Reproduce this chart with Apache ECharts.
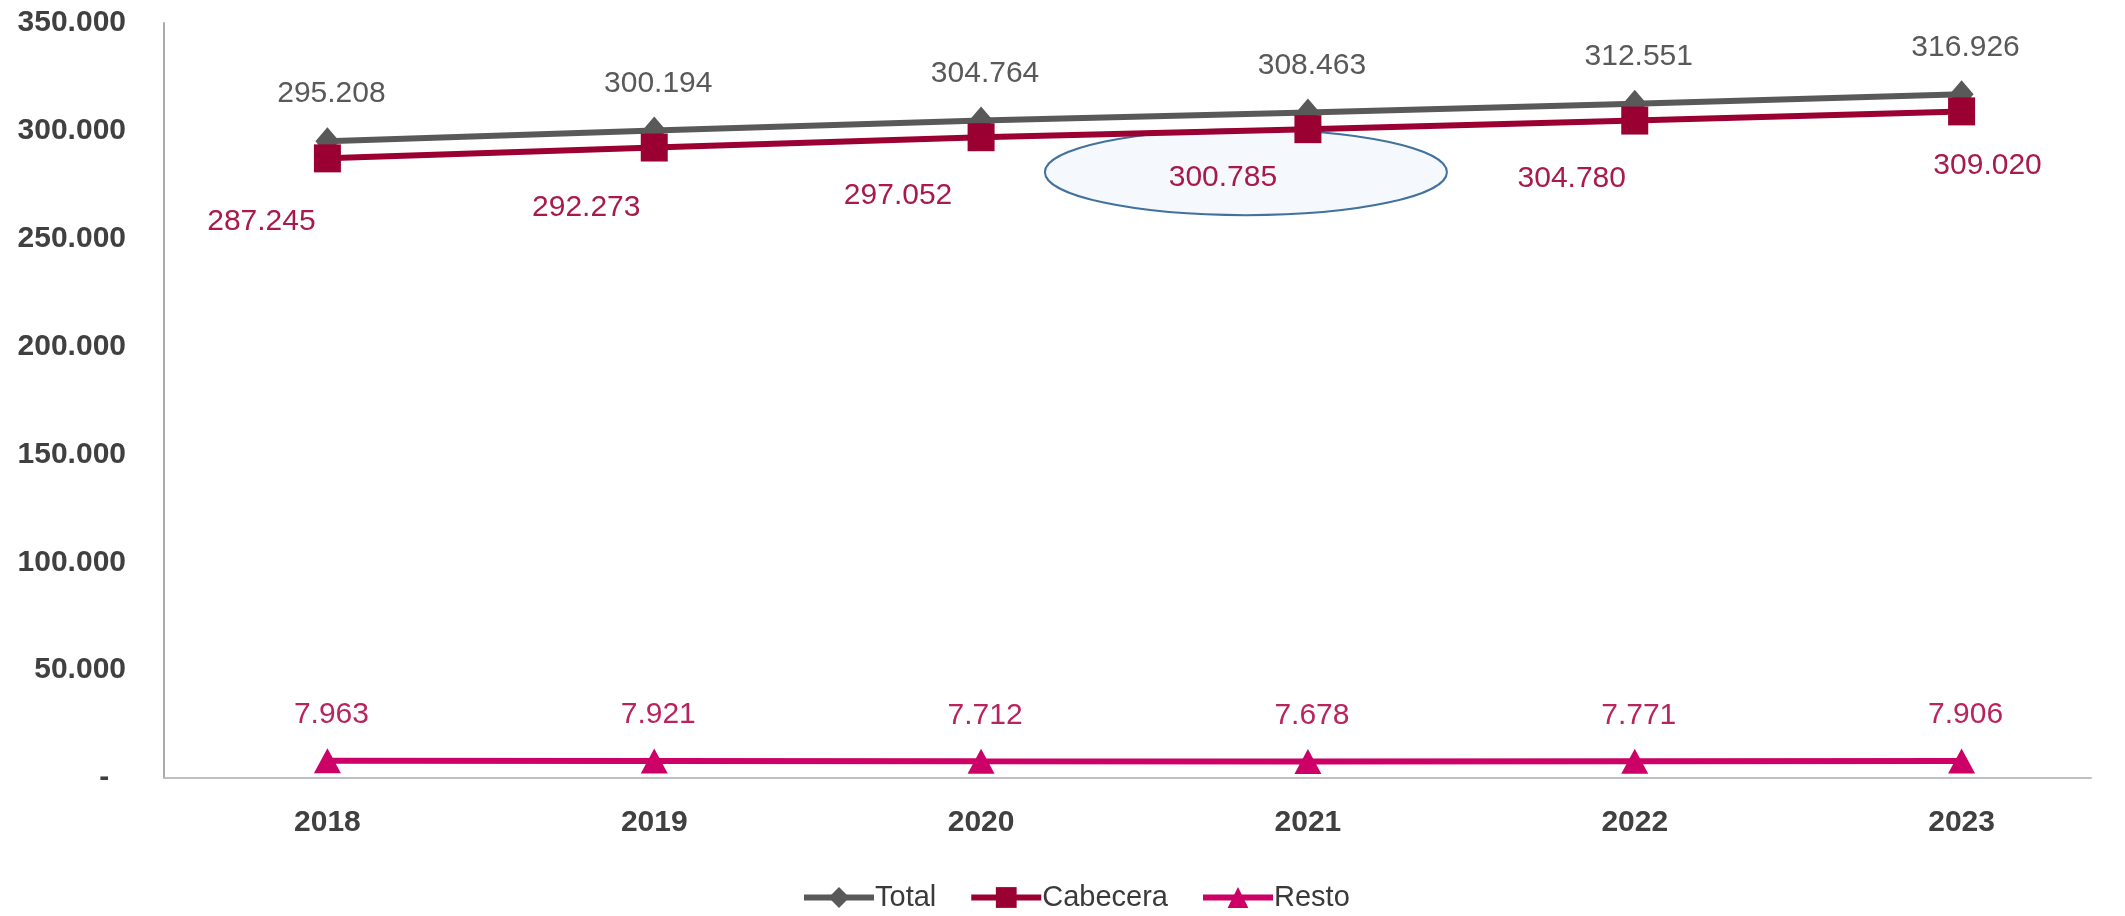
<!DOCTYPE html>
<html><head><meta charset="utf-8">
<script src="https://cdn.jsdelivr.net/npm/echarts@6/dist/echarts.min.js"></script>
<style>html,body{margin:0;padding:0;background:#fff}#c{width:2125px;height:916px}</style>
</head><body><div id="c"></div>
<script>
const categories = ['2018','2019','2020','2021','2022','2023'];
const total = [295208, 300194, 304764, 308463, 312551, 316926];
const cabecera = [287245, 292273, 297052, 300785, 304780, 309020];
const resto = [7963, 7921, 7712, 7678, 7771, 7906];
const yMin = 0, yMax = 350000, yInterval = 50000;
const seriesNames = ['Total', 'Cabecera', 'Resto'];

// layout only (label offsets relative to each point)
const cabeceraLabelOffsets = [[-66,63],[-68,60],[-83,59],[-85,49],[-63,58],[26,54]];

function fmt(v){ return v === 0 ? '-  ' : String(v).replace(/\B(?=(\d{3})+(?!\d))/g, '.'); }

const FONT = "'Liberation Sans', Arial, sans-serif";
const chart = echarts.init(document.getElementById('c'), null, {renderer:'canvas'});

const option = {
  animation: false,
  backgroundColor: '#ffffff',
  textStyle: { fontFamily: FONT },
  grid: [
    { left: 164, top: 23, bottom: 138, width: 1962 },
    { left: 164, top: 23, bottom: 138, width: 1927 }
  ],
  legend: {
    data: seriesNames,
    left: 796, top: 878,
    itemWidth: 70, itemHeight: 26, itemGap: 32,
    lineStyle: { width: 6 },
    textStyle: { fontSize: 29, color: '#3A3A3A', fontFamily: FONT, padding: [0, 0, 0, -4] }
  },
  xAxis: [
    { type: 'category', gridIndex: 0, data: categories, boundaryGap: true,
      axisLine: { show: false }, axisTick: { show: false },
      axisLabel: { fontSize: 30, fontWeight: 'bold', color: '#404040', margin: 30, fontFamily: FONT } },
    { type: 'value', gridIndex: 1, min: 0, max: 1,
      axisLine: { show: true, onZero: false, lineStyle: { color: '#BFBFBF', width: 2 } },
      axisTick: { show: false }, axisLabel: { show: false }, splitLine: { show: false } }
  ],
  yAxis: [
    { type: 'value', gridIndex: 0, min: yMin, max: yMax, interval: yInterval,
      axisLine: { show: true, lineStyle: { color: '#ABABAB', width: 2 } },
      axisTick: { show: false }, splitLine: { show: false },
      axisLabel: { fontSize: 30, fontWeight: 'bold', color: '#404040', margin: 38, fontFamily: FONT,
        formatter: v => fmt(v) } },
    { type: 'value', gridIndex: 1, show: false, min: 0, max: 1 }
  ],
  series: [
    { name: 'Total', type: 'line', xAxisIndex: 0, yAxisIndex: 0, data: total,
      symbol: 'diamond', symbolSize: [24, 28], z: 2,
      lineStyle: { color: '#595959', width: 6 }, itemStyle: { color: '#595959' },
      label: { show: true, position: 'inside', offset: [4, -47], color: '#595959', fontSize: 30, fontFamily: FONT,
        formatter: p => fmt(p.value) } },
    { name: 'Cabecera', type: 'line', xAxisIndex: 0, yAxisIndex: 0,
      data: cabecera.map((v, i) => ({ value: v, label: { offset: cabeceraLabelOffsets[i] } })),
      symbol: 'rect', symbolSize: [27, 28], z: 3,
      lineStyle: { color: '#9B0033', width: 6 }, itemStyle: { color: '#9B0033' },
      label: { show: true, position: 'inside', color: '#A81A4C', fontSize: 30, fontFamily: FONT,
        formatter: p => fmt(p.value) } },
    { name: 'Resto', type: 'line', xAxisIndex: 0, yAxisIndex: 0, data: resto,
      symbol: 'triangle', symbolSize: [27, 25], z: 4,
      lineStyle: { color: '#CC0066', width: 6 }, itemStyle: { color: '#CC0066' },
      label: { show: true, position: 'inside', offset: [4, -46], color: '#B8245E', fontSize: 30, fontFamily: FONT,
        formatter: p => fmt(p.value) } }
  ]
};
chart.setOption(option);

// Annotation ellipse around the 2021 Cabecera label
const p = chart.convertToPixel({ xAxisIndex: 0, yAxisIndex: 0 }, [categories[3], cabecera[3]]);
chart.setOption({
  graphic: [{ type: 'ellipse', silent: true, z: 0,
    shape: { cx: p[0] - 62, cy: p[1] + 43, rx: 201, ry: 43 },
    style: { fill: '#F5F9FD', stroke: '#41719C', lineWidth: 2 } }]
});
</script>
</body></html>
